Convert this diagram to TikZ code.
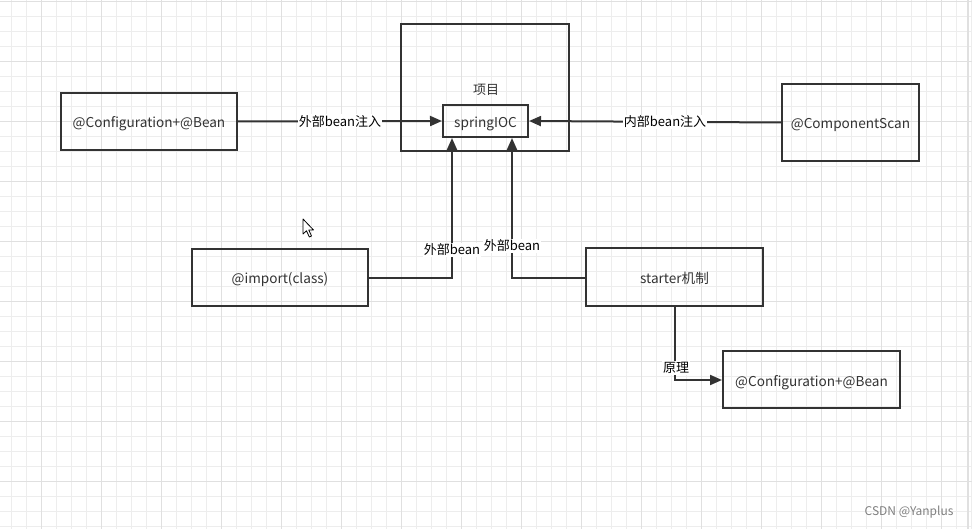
\documentclass[tikz,border=0pt]{standalone}
\usepackage{fontspec}
\setmainfont{Noto Sans CJK SC}
\usetikzlibrary{arrows.meta}
\definecolor{ink}{HTML}{333333}
\definecolor{gridminor}{HTML}{EDEDED}
\definecolor{gridmajor}{HTML}{E0E0E0}
\tikzset{
  box/.style={draw=ink, line width=2pt, text=ink, inner sep=0pt, text height=13pt, text depth=0pt, font=\fontsize{13.6}{15}\selectfont},
  conn/.style={draw=ink, line width=2pt, -{Triangle[length=12pt,width=10pt]}},
  lbl/.style={fill=white, inner sep=1pt, text=black, text height=11pt, text depth=1pt, font=\fontsize{13}{15}\selectfont},
  minorline/.style={draw=gridminor, line width=1pt},
  majorline/.style={draw=gridmajor, line width=1pt}
}
\begin{document}
\begin{tikzpicture}[x=1pt,y=-1pt]
\useasboundingbox (0,0) rectangle (972,529);
\fill[white] (0,0) rectangle (972,529);
% grid
\foreach \i in {0,...,64} {\draw[minorline] ({11.7+15*\i},0) -- ({11.7+15*\i},529);}
\foreach \i in {0,...,35} {\draw[minorline] (0,{1.7+15*\i}) -- (972,{1.7+15*\i});}
\foreach \i in {0,...,15} {\draw[majorline] ({41.7+60*\i},0) -- ({41.7+60*\i},529);}
\foreach \i in {0,...,8} {\draw[majorline] (0,{1.7+60*\i}) -- (972,{1.7+60*\i});}
\draw[draw=gridmajor, line width=1.5pt] (968,0) -- (968,529);
% nodes
\node[box, minimum width=168pt, minimum height=127pt] (proj) at (485,87.5) {};
\node[text=ink, font=\fontsize{13}{15}\selectfont] (projlbl) at (486,90) {项目};
\node[box, minimum width=85pt, minimum height=32pt] (ioc) at (485.5,121) {springIOC};
\node[box, minimum width=176pt, minimum height=57pt] (cfg) at (149,121.5) {@Configuration+@Bean};
\node[box, minimum width=137pt, minimum height=77pt] (scan) at (850.5,122.5) {@ComponentScan};
\node[box, minimum width=176pt, minimum height=57pt] (imp) at (280,277.5) {@import(class)};
\node[box, minimum width=177pt, minimum height=58pt] (starter) at (674.5,277) {starter机制};
\node[box, minimum width=177pt, minimum height=57pt] (cfg2) at (811.5,379.5) {@Configuration+@Bean};
% connectors
\draw[conn] (cfg.east) -- node[lbl] {外部bean注入} (ioc.west);
\draw[conn] (scan.west) -- node[lbl, pos=0.46] {内部bean注入} (ioc.east);
\coordinate (impc) at (452,278);
\draw[conn] (imp.east |- impc) -- (impc) -- (impc |- ioc.south);
\node[lbl] (implbl) at (452,250) {外部bean};
\coordinate (stc) at (512,278);
\draw[conn] (starter.west |- stc) -- (stc) -- (stc |- ioc.south);
\node[lbl] (stlbl) at (512,246) {外部bean};
\coordinate (prc) at (675,380);
\draw[conn] (starter.south -| prc) -- (prc) -- (cfg2.west |- prc);
\node[lbl] (prlbl) at (676,368) {原理};
% cursor
\filldraw[fill=white, draw=black, line width=0.8pt, line join=round]
  (303,219) -- (303,234) -- (306.5,230.8) -- (309.3,237) -- (311.5,236) -- (308.8,230) -- (313.5,230) -- cycle;
% watermark
\node[text=gray, font=\fontsize{12}{14}\selectfont, anchor=east] (wm) at (957,512) {CSDN @Yanplus};
\end{tikzpicture}
\end{document}
